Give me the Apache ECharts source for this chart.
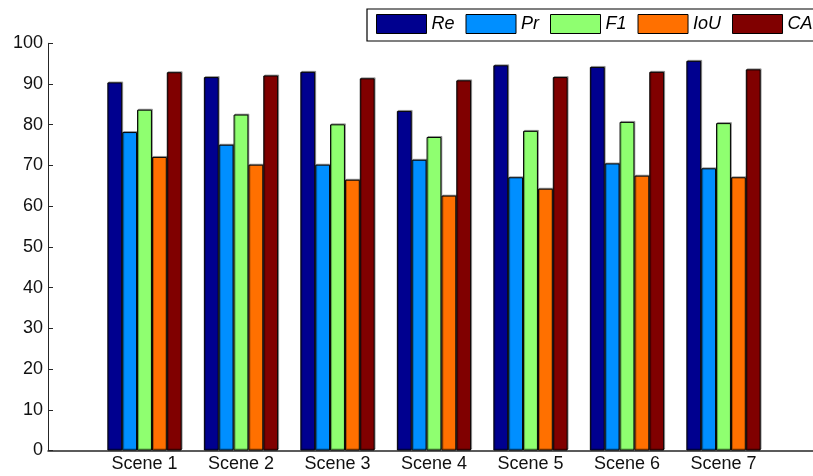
<!DOCTYPE html>
<html>
<head>
<meta charset="utf-8">
<script src="https://cdn.jsdelivr.net/npm/echarts@6/dist/echarts.min.js"></script>
<style>
  html, body { margin: 0; padding: 0; background: #fff; }
  #chart { width: 813px; height: 476px; }
</style>
</head>
<body>
<div id="chart"></div>
<script>
// Per-scene scores (%)
const scenes = ['Scene 1', 'Scene 2', 'Scene 3', 'Scene 4', 'Scene 5', 'Scene 6', 'Scene 7'];
const metricNames = ['Re', 'Pr', 'F1', 'IoU', 'CA'];
const re  = [90.4, 91.7, 93.0, 83.4, 94.6, 94.2, 95.7];
const pr  = [78.2, 75.1, 70.2, 71.4, 67.1, 70.5, 69.3];
const f1  = [83.7, 82.5, 80.1, 77.0, 78.5, 80.7, 80.4];
const iou = [72.1, 70.2, 66.5, 62.6, 64.3, 67.5, 67.1];
const ca  = [92.9, 92.1, 91.4, 90.9, 91.7, 93.0, 93.6];
const yTicks = [0, 10, 20, 30, 40, 50, 60, 70, 80, 90, 100];

const seriesValues = [re, pr, f1, iou, ca];
const colors = ['#00008F', '#008FFF', '#8FFF70', '#FF7000', '#800000'];

// The x range runs from 0 to 8 with the scenes sitting at 1..7,
// so pad the category list with an empty slot at each end.
const xCats = [''].concat(scenes, ['']);
const pad = arr => ['-'].concat(arr, ['-']);

const font = '"Liberation Sans", Arial, Helvetica, sans-serif';

const chart = echarts.init(document.getElementById('chart'), null, { renderer: 'canvas' });
chart.setOption({
  animation: false,
  backgroundColor: '#ffffff',
  color: colors,
  // plot area runs a little past the right edge of the canvas
  grid: {
    left: 48, top: 43.3, width: 772, height: 407.2,
    containLabel: false,
    outerBoundsMode: 'none'
  },
  legend: {
    left: 367,
    top: 9,
    width: 600,
    orient: 'horizontal',
    padding: [5, 60, 7, 9],
    itemGap: 11,
    itemWidth: 50,
    itemHeight: 19,
    borderColor: '#000',
    borderWidth: 1.2,
    backgroundColor: '#fff',
    selectedMode: false,
    icon: 'rect',
    itemStyle: { borderColor: '#000', borderWidth: 1 },
    textStyle: { fontFamily: font, fontSize: 18, fontStyle: 'italic', color: '#000' },
    data: metricNames
  },
  xAxis: {
    type: 'category',
    data: xCats,
    boundaryGap: false,
    axisLine: { show: true, lineStyle: { color: '#262626', width: 1.5 } },
    axisTick: { show: false },
    axisLabel: { interval: 0, fontFamily: font, fontSize: 18, color: '#111', margin: 5 },
    splitLine: { show: false }
  },
  yAxis: {
    type: 'value',
    min: 0,
    max: 100,
    interval: 10,
    axisLine: { show: true, lineStyle: { color: '#262626', width: 1 } },
    axisTick: { show: true, inside: true, length: 5, lineStyle: { color: '#262626' } },
    axisLabel: {
      fontFamily: font, fontSize: 18, color: '#111', margin: 5,
      formatter: v => (yTicks.indexOf(v) >= 0 ? String(v) : '')
    },
    splitLine: { show: false }
  },
  series: seriesValues.map((vals, i) => ({
    name: metricNames[i],
    type: 'bar',
    data: pad(vals),
    barGap: '0%',
    barCategoryGap: '23%',
    itemStyle: {
      color: colors[i],
      borderColor: '#000',
      borderWidth: 1,
      shadowColor: 'rgba(0,0,0,0.3)',
      shadowOffsetX: 1,
      shadowOffsetY: -1,
      shadowBlur: 0
    },
    emphasis: { disabled: true }
  }))
});
</script>
</body>
</html>
